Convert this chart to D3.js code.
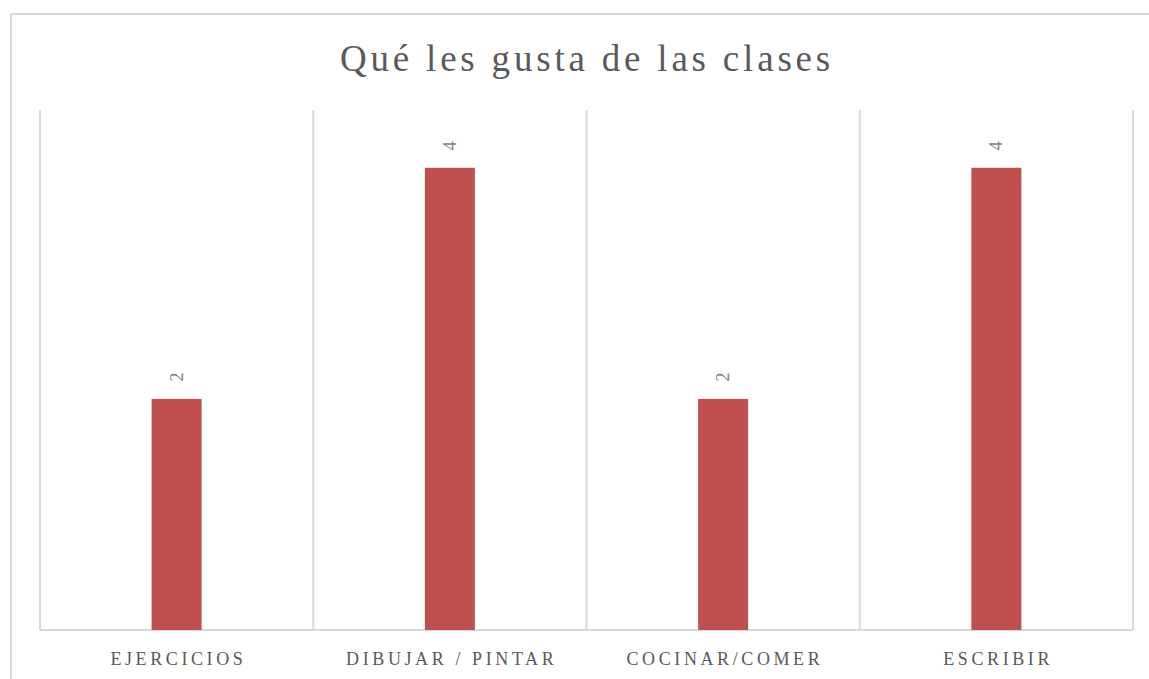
<!DOCTYPE html>
<meta charset="utf-8">
<style>
 body { margin: 0; background: #fff; }
 .title { font-family: "Liberation Serif", "DejaVu Serif", serif; font-size: 37px; fill: #595959; letter-spacing: 3.8px; }
 .cat { font-family: "Liberation Serif", "DejaVu Serif", serif; font-size: 18px; fill: #595959; letter-spacing: 3.6px; }
 .val { font-family: "Liberation Serif", "DejaVu Serif", serif; font-size: 18px; fill: #7f7f7f; }
 .grid { stroke: #d9d9d9; stroke-width: 2px; }
</style>
<svg class="chart"></svg>
<script src="https://cdn.jsdelivr.net/npm/d3@7"></script>
<script>

 var title = "Qué les gusta de las clases";
 var categories = ["EJERCICIOS", "DIBUJAR / PINTAR", "COCINAR/COMER", "ESCRIBIR"];
 var values = [2, 4, 2, 4];
 var yMax = 4.5;

 var svg = d3.select(".chart").attr("width", 1149).attr("height", 679);

 // chart frame
 svg.append("rect").attr("x", 11).attr("y", 14).attr("width", 1160).attr("height", 700)
    .attr("fill", "none").attr("stroke", "#d9d9d9").attr("stroke-width", 2);

 var plotL = 40, plotR = 1133, plotT = 110, plotB = 630;

 var x = d3.scaleBand().domain(categories).range([plotL, plotR]);
 var y = d3.scaleLinear().domain([0, yMax]).range([plotB, plotT]);

 svg.append("text").attr("class", "title").attr("x", 587).attr("y", 71)
    .attr("text-anchor", "middle").text(title);

 // vertical gridlines at band edges
 var edges = categories.map(function(c) { return x(c); }).concat([plotR]);
 svg.selectAll(".vgrid").data(edges).enter().append("line")
    .attr("class", "grid")
    .attr("x1", function(d) { return d; }).attr("x2", function(d) { return d; })
    .attr("y1", plotT).attr("y2", plotB);

 svg.append("line").attr("class", "grid")
    .attr("x1", plotL).attr("x2", plotR).attr("y1", plotB).attr("y2", plotB);

 var barW = 50;
 var g = svg.selectAll(".bar").data(categories).enter().append("g");

 g.append("rect")
  .attr("x", function(d) { return x(d) + x.bandwidth() / 2 - barW / 2; })
  .attr("y", function(d, i) { return y(values[i]); })
  .attr("width", barW)
  .attr("height", function(d, i) { return plotB - y(values[i]); })
  .attr("fill", "#c0504d");

 g.append("text").attr("class", "val")
  .attr("transform", function(d, i) {
      return "translate(" + (x(d) + x.bandwidth() / 2 + 6) + "," + (y(values[i]) - 22) + ") rotate(-90)";
  })
  .attr("text-anchor", "middle")
  .text(function(d, i) { return values[i]; });

 g.append("text").attr("class", "cat")
  .attr("x", function(d) { return x(d) + x.bandwidth() / 2 + 1.8; })
  .attr("y", 665)
  .attr("text-anchor", "middle")
  .text(function(d) { return d; });

</script>
